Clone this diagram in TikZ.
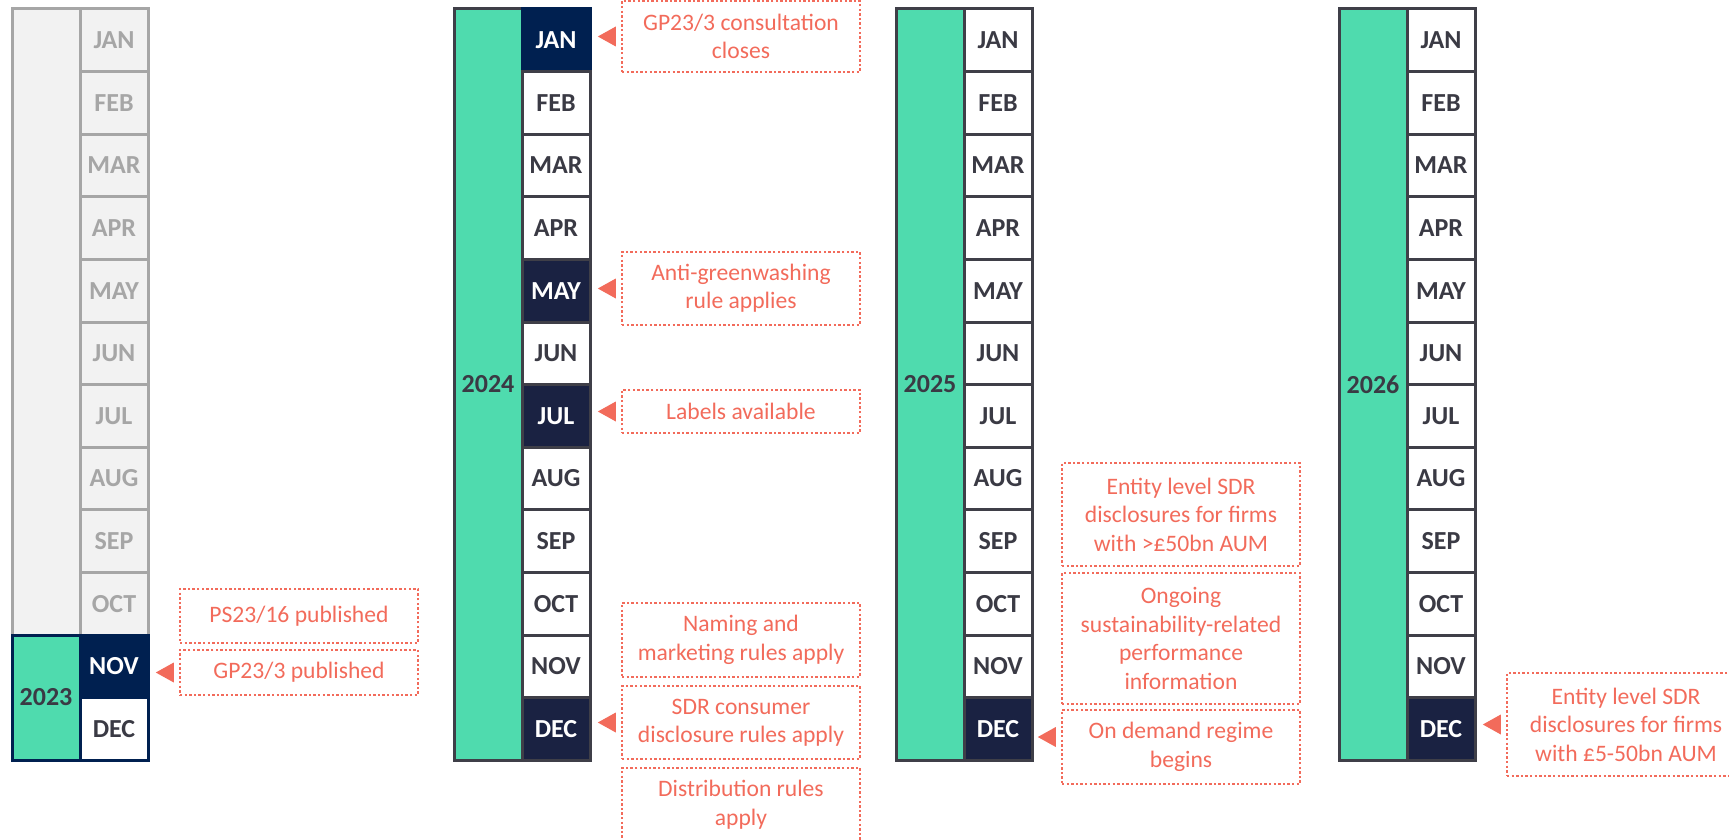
\documentclass[tikz,border=0pt]{standalone}
\usepackage{fontspec}
\setmainfont{Carlito}
\definecolor{mint}{HTML}{4FDBAE}
\definecolor{edge}{HTML}{3F3F48}
\definecolor{ink}{HTML}{3A3A44}
\definecolor{navy}{HTML}{002050}
\definecolor{night}{HTML}{1A2242}
\definecolor{mist}{HTML}{A6A6A6}
\definecolor{fog}{HTML}{F2F2F2}
\definecolor{coral}{HTML}{F26B5B}
\newcommand{\pointer}[2][0pt]{\fill[coral] ([xshift=-2.5pt,yshift=5pt+#1]#2.west) -- ++(0,-10pt) -- ++(-9pt,5pt) -- cycle;}

\begin{document}
\begin{tikzpicture}[x=0.5pt,y=-0.5pt]
   \tikzstyle{month}=[draw=edge, line width=1.5pt, fill=white, text=ink, font=\fontsize{13}{15}\selectfont\bfseries, minimum width=34pt, minimum height=31.3pt, inner sep=0pt]
   \tikzstyle{plain}=[fill=white]
   \tikzstyle{faded}=[draw=mist, fill=fog, text=mist]
   \tikzstyle{deep}=[fill=night, text=white]
   \tikzstyle{navybox}=[draw=navy, fill=navy, text=white]
   \tikzstyle{navyrim}=[draw=navy]
   \tikzstyle{year}=[draw=edge, line width=1.5pt, fill=mint, text=ink, font=\fontsize{13}{15}\selectfont\bfseries, minimum width=34pt, minimum height=375.5pt, inner sep=0pt]
   \tikzstyle{note}=[draw=coral, line width=1.2pt, dash pattern=on 1.2pt off 1.1pt, text=coral, align=center, minimum width=119pt, inner sep=0pt, font=\fontsize{11.8}{14.2}\selectfont]

\path[use as bounding box, clip] (0,0) rectangle (1729,840);

\node[year, faded, minimum height=313pt] (y23top) at (46,322) {};
\node[year, draw=navy, minimum height=62.5pt] (y23) at (46,697.5) {2023};
\foreach \m/\s [count=\i] in {JAN/faded,FEB/faded,MAR/faded,APR/faded,MAY/faded,JUN/faded,JUL/faded,AUG/faded,SEP/faded,OCT/faded,NOV/navybox,DEC/navyrim}
    \node[month, \s] (m23-\i) at (114,{62.6*\i-22.3}) {\m};

\node[year] (y24) at (488,384.5) {2024};
\foreach \m/\s [count=\i] in {JAN/navybox,FEB/plain,MAR/plain,APR/plain,MAY/deep,JUN/plain,JUL/deep,AUG/plain,SEP/plain,OCT/plain,NOV/plain,DEC/deep}
    \node[month, \s] (m24-\i) at (556,{62.6*\i-22.3}) {\m};

\node[year] (y25) at (930,384.5) {2025};
\foreach \m/\s [count=\i] in {JAN/plain,FEB/plain,MAR/plain,APR/plain,MAY/plain,JUN/plain,JUL/plain,AUG/plain,SEP/plain,OCT/plain,NOV/plain,DEC/deep}
    \node[month, \s] (m25-\i) at (998,{62.6*\i-22.3}) {\m};

\node[year] (y26) at (1373,384.5) {2026};
\foreach \m/\s [count=\i] in {JAN/plain,FEB/plain,MAR/plain,APR/plain,MAY/plain,JUN/plain,JUL/plain,AUG/plain,SEP/plain,OCT/plain,NOV/plain,DEC/deep}
    \node[month, \s] (m26-\i) at (1441,{62.6*\i-22.3}) {\m};

\node[note, minimum height=27pt] (ps) at (299,616) {PS23/16 published};
\node[note, minimum height=22.5pt] (gp) at (299,672.5) {GP23/3 published};

\node[note, minimum height=35.5pt] (consult) at (741,36.5) {GP23/3 consultation\\closes};
\node[note, minimum height=36.5pt] (greenwash) at (741,288.5) {Anti-greenwashing\\rule applies};
\node[note, minimum height=21.5pt] (labels) at (741,411.5) {Labels available};
\node[note, minimum height=37pt] (naming) at (741,640) {Naming and\\marketing rules apply};
\node[note, minimum height=36.5pt] (consumer) at (741,722.5) {SDR consumer\\disclosure rules apply};
\node[note, minimum height=36.5pt] (distrib) at (741,804.5) {Distribution rules\\apply};

\node[note, minimum height=51.5pt] (large) at (1181,514.5) {Entity level SDR\\disclosures for firms\\with >£50bn AUM};
\node[note, minimum height=65.5pt] (ongoing) at (1181,638.5) {Ongoing\\sustainability-related\\performance\\information};
\node[note, minimum height=37pt] (demand) at (1181,747) {On demand regime\\begins};

\node[note, minimum height=51.5pt] (medium) at (1626,724.5) {Entity level SDR\\disclosures for firms\\with £5-50bn AUM};

\pointer{gp}
\pointer{consult}
\pointer{greenwash}
\pointer{labels}
\pointer{consumer}
\pointer[5pt]{demand}
\pointer{medium}

\end{tikzpicture}
\end{document}
